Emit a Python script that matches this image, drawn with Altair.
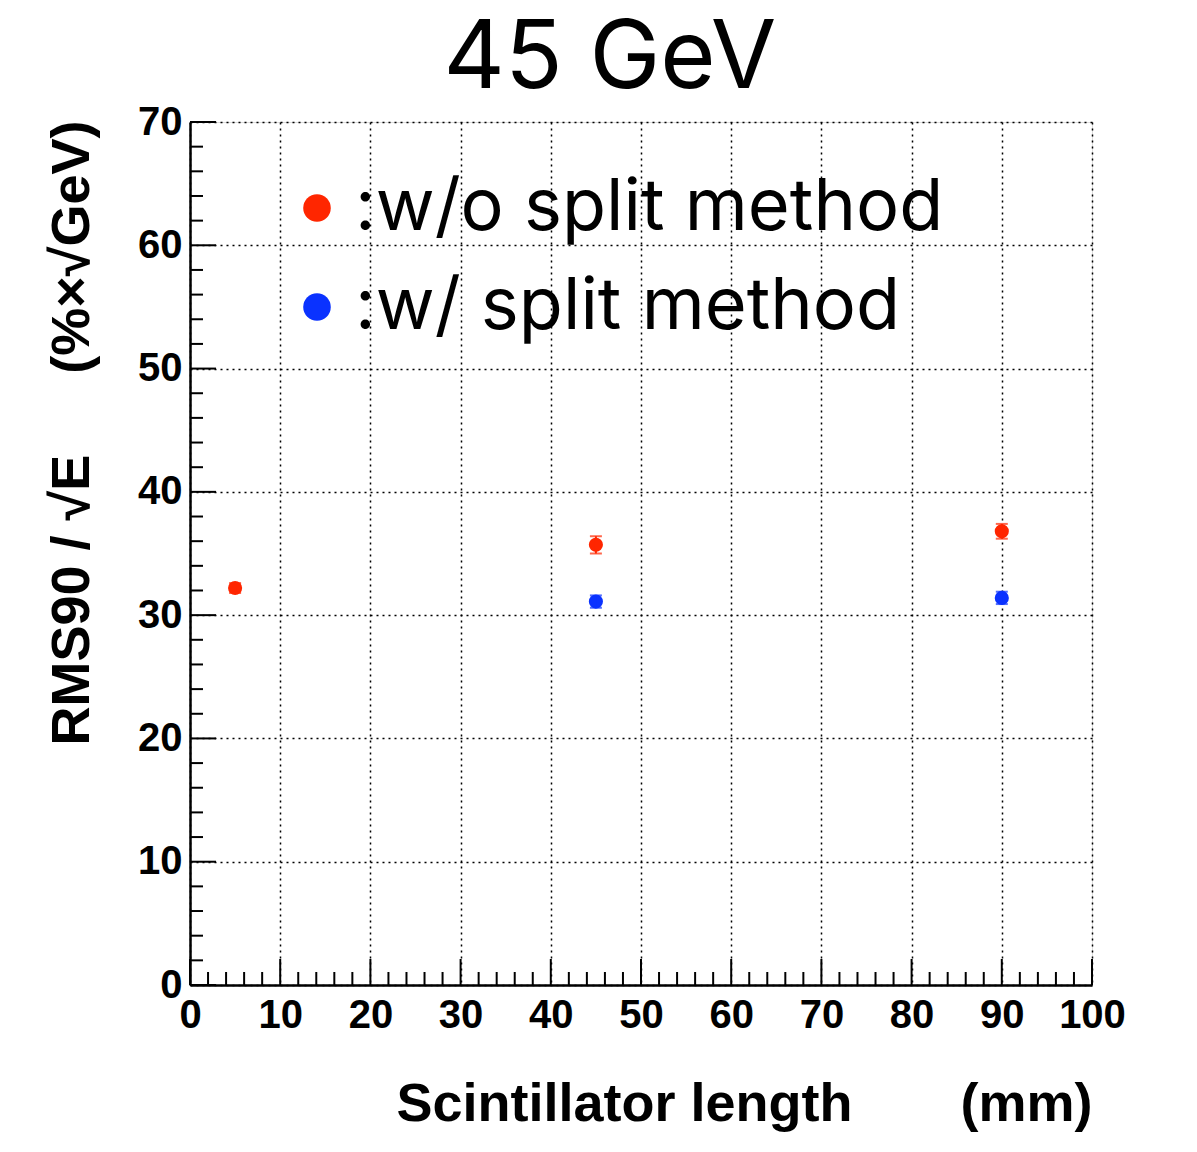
import altair as alt
import pandas as pd

# ---- data ----
series_names = [":w/o split method", ":w/ split method"]
series_colors = ["#ff2600", "#0a32ff"]

len_wo = [5, 45, 90]
rms_wo = [32.2, 35.7, 36.8]
err_wo = [0.4, 0.7, 0.6]

len_w = [45, 90]
rms_w = [31.1, 31.4]
err_w = [0.5, 0.5]

x_major = [0, 10, 20, 30, 40, 50, 60, 70, 80, 90, 100]
x_minor = [v for v in range(2, 100, 2) if v % 10 != 0]
y_major = [0, 10, 20, 30, 40, 50, 60, 70]
y_minor = [v for v in range(2, 70, 2) if v % 10 != 0]

rows = []
for x, y, e in zip(len_wo, rms_wo, err_wo):
    rows.append({"x": x, "y": y, "lo": y - e, "hi": y + e, "s": series_names[0]})
for x, y, e in zip(len_w, rms_w, err_w):
    rows.append({"x": x, "y": y, "lo": y - e, "hi": y + e, "s": series_names[1]})
df = pd.DataFrame(rows)

W, H = 902, 863
xscale = alt.Scale(domain=[0, 100], nice=False, zero=False)
yscale = alt.Scale(domain=[0, 70], nice=False, zero=False)
cscale = alt.Scale(domain=series_names, range=series_colors)

lab_font = "Liberation Sans"
leg_font = "Inter"

xaxis = alt.Axis(
    values=x_major, grid=True, gridColor="black", gridDash=[2, 4], gridWidth=1.5,
    ticks=False, domainColor="black", domainWidth=2.5,
    labelFont=lab_font, labelFontWeight="bold", labelFontSize=40, labelColor="black",
    labelPadding=10, labelBaseline="top", labelFlush=False,
    title="Scintillator length\u2003\u2003(mm)", titleFont=lab_font,
    titleFontWeight="bold", titleFontSize=54, titleColor="black",
    titleAnchor="end", titleAlign="right", titleX=W, titleY=135,
    titleBaseline="alphabetic",
)
yaxis = alt.Axis(
    values=y_major, grid=True, gridColor="black", gridDash=[2, 4], gridWidth=1.5,
    ticks=False, domainColor="black", domainWidth=2.5,
    labelFont=lab_font, labelFontWeight="bold", labelFontSize=40, labelColor="black",
    labelPadding=8, labelFlush=False,
    title="RMS90 / \u221aE\u2003\u2002(%\u00d7\u221aGeV)", titleFont=lab_font,
    titleFontWeight="bold", titleFontSize=54, titleColor="black",
    titleAngle=-90, titleAlign="left", titleBaseline="middle",
    titleX=-118, titleY=623,
)
legend = alt.Legend(
    title=None, orient="none", legendX=91, legendY=50,
    symbolType="circle", symbolSize=760, symbolStrokeWidth=0,
    labelFont=leg_font, labelFontSize=72, labelColor="black",
    labelLimit=1000, rowPadding=27, symbolOffset=0, labelOffset=2,
)

X = lambda f: alt.X(f, scale=xscale, axis=xaxis)
Y = lambda f: alt.Y(f, scale=yscale, axis=yaxis)
C = alt.Color("s:N", scale=cscale, legend=legend)

base = alt.Chart(df)

points = base.mark_point(filled=True, shape="circle", size=200, opacity=1).encode(
    x=X("x:Q"), y=Y("y:Q"), color=C)
rules = base.mark_rule(strokeWidth=2).encode(
    x=X("x:Q"), y=Y("lo:Q"), y2="hi:Q", color=C)
caps_lo = base.mark_tick(orient="horizontal", size=12, thickness=2).encode(
    x=X("x:Q"), y=Y("lo:Q"), color=C)
caps_hi = base.mark_tick(orient="horizontal", size=12, thickness=2).encode(
    x=X("x:Q"), y=Y("hi:Q"), color=C)

# inside tick marks
ymaj = alt.Chart(pd.DataFrame({"v": y_major})).mark_rule(color="black", strokeWidth=2).encode(
    y=Y("v:Q"), x=alt.value(0), x2=alt.value(26))
ymin = alt.Chart(pd.DataFrame({"v": y_minor})).mark_rule(color="black", strokeWidth=2).encode(
    y=Y("v:Q"), x=alt.value(0), x2=alt.value(13))
xmaj = alt.Chart(pd.DataFrame({"v": x_major})).mark_rule(color="black", strokeWidth=2).encode(
    x=X("v:Q"), y=alt.value(H), y2=alt.value(H - 26))
xmin = alt.Chart(pd.DataFrame({"v": x_minor})).mark_rule(color="black", strokeWidth=2).encode(
    x=X("v:Q"), y=alt.value(H), y2=alt.value(H - 13))

chart = alt.layer(points, rules, caps_lo, caps_hi, ymaj, ymin, xmaj, xmin).properties(
    width=W, height=H,
    title=alt.TitleParams("45 GeV", anchor="middle", dx=-31, dy=22, offset=16),
    autosize=alt.AutoSizeParams(type="none"),
    padding={"left": 182, "top": 114, "right": 90, "bottom": 160},
).configure_view(
    stroke="black", strokeWidth=2
).configure(background="white").configure_title(
    font=leg_font, fontSize=95, fontWeight="normal", color="black"
)

chart.save("out.html", embed_options={"renderer": "svg", "actions": False})
